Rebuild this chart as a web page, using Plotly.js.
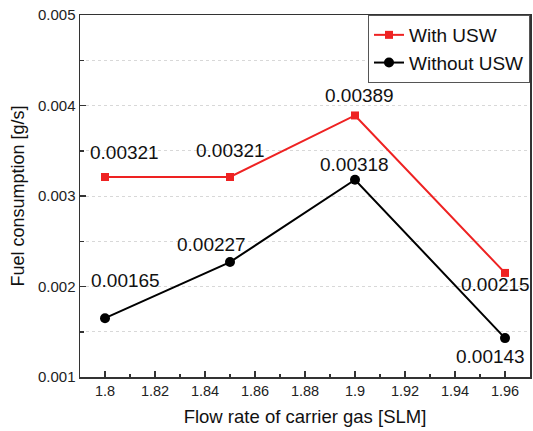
<!DOCTYPE html>
<html>
<head>
<meta charset="utf-8">
<script src="https://cdn.plot.ly/plotly-3.0.1.min.js"></script>
<style>html,body{margin:0;padding:0;background:#fff;}#chart{width:533px;height:431px;}</style>
</head>
<body>
<div id="chart"></div>
<script>
// Data
const flowRate = [1.8, 1.85, 1.9, 1.96];
const withUSW = [0.00321, 0.00321, 0.00389, 0.00215];
const withoutUSW = [0.00165, 0.00227, 0.00318, 0.00143];
const seriesNames = ['With USW', 'Without USW'];

// Label offsets (pixels) – layout only
const withShift = [[19, 25], [0, 27], [4, 20], [-10, -12]];
const withoutShift = [[20, 38], [-19, 18], [-1, 15], [-15, -18]];

const FONT = '"Liberation Sans", Arial, sans-serif';

const traces = [
  {
    x: flowRate, y: withUSW, name: seriesNames[0], type: 'scatter', mode: 'lines+markers',
    line: {color: '#ee2222', width: 2},
    marker: {symbol: 'square', size: 8, color: '#ee2222'}
  },
  {
    x: flowRate, y: withoutUSW, name: seriesNames[1], type: 'scatter', mode: 'lines+markers',
    line: {color: '#000000', width: 2},
    marker: {symbol: 'circle', size: 10, color: '#000000'}
  }
];

const annotations = [];
function addLabels(ys, shifts) {
  flowRate.forEach((x, i) => {
    annotations.push({
      x: x, y: ys[i], xref: 'x', yref: 'y',
      text: ys[i].toFixed(5), showarrow: false,
      xshift: shifts[i][0], yshift: shifts[i][1],
      font: {family: FONT, size: 19, color: '#111'}
    });
  });
}
addLabels(withUSW, withShift);
addLabels(withoutUSW, withoutShift);

const layout = {
  width: 533, height: 431,
  margin: {l: 80, r: 3, t: 15, b: 54},
  paper_bgcolor: '#fff', plot_bgcolor: '#fff',
  font: {family: FONT, color: '#111'},
  showlegend: true,
  legend: {
    x: 1, y: 1, xanchor: 'right', yanchor: 'top',
    bgcolor: '#fff', bordercolor: '#555', borderwidth: 1,
    font: {family: FONT, size: 19, color: '#111'},
    tracegroupgap: 0, itemwidth: 30
  },
  xaxis: {
    range: [1.79, 1.97], tick0: 1.8, dtick: 0.02,
    ticks: 'inside', ticklen: 6, tickwidth: 1.5, tickcolor: '#333',
    minor: {dtick: 0.01, ticks: 'inside', ticklen: 3, tickwidth: 1.5, tickcolor: '#333'},
    showline: true, linecolor: '#333', linewidth: 1.5, mirror: true,
    showgrid: false, zeroline: false,
    tickfont: {family: FONT, size: 14.5, color: '#222'},
    title: {text: 'Flow rate of carrier gas [SLM]', font: {family: FONT, size: 18.5, color: '#111'}, standoff: 12}
  },
  yaxis: {
    range: [0.001, 0.005], tick0: 0.001, dtick: 0.001, tickformat: '.3f',
    ticks: 'inside', ticklen: 6, tickwidth: 1.5, tickcolor: '#333',
    minor: {dtick: 0.0005, ticks: 'inside', ticklen: 4, tickwidth: 1.5, tickcolor: '#333',
            showgrid: true, gridcolor: '#d8d8d8', griddash: 'dot', gridwidth: 1},
    showline: true, linecolor: '#333', linewidth: 1.5, mirror: true,
    showgrid: true, gridcolor: '#d8d8d8', griddash: 'dot', gridwidth: 1, zeroline: false,
    tickfont: {family: FONT, size: 15, color: '#222'},
    title: {text: 'Fuel consumption [g/s]', font: {family: FONT, size: 18, color: '#111'}, standoff: 8}
  },
  annotations: annotations
};

Plotly.newPlot('chart', traces, layout, {displayModeBar: false, staticPlot: true});
</script>
</body>
</html>
